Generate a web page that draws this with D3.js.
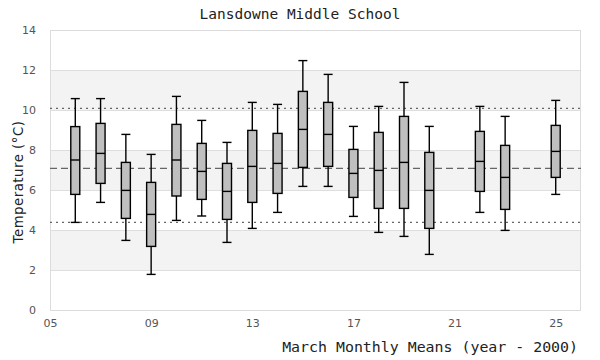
<!DOCTYPE html>
<html><head><meta charset="utf-8">
<script src="https://cdn.jsdelivr.net/npm/d3@7"></script>
<style>body{margin:0;background:#fff}</style>
</head><body>
<svg id="c" width="600" height="360"></svg>
<script>
const years    = [6, 7, 8, 9, 10, 11, 12, 13, 14, 15, 16, 17, 18, 19, 20, 22, 23, 25];
const whiskLo  = [4.38, 5.38, 3.48, 1.78, 4.48, 4.70, 3.38, 4.08, 4.88, 6.18, 6.18, 4.68, 3.88, 3.68, 2.78, 4.88, 3.98, 5.78];
const q1       = [5.78, 6.33, 4.58, 3.18, 5.70, 5.53, 4.53, 5.38, 5.83, 7.13, 7.18, 5.63, 5.08, 5.08, 4.08, 5.93, 5.03, 6.63];
const medians  = [7.50, 7.83, 5.98, 4.78, 7.50, 6.93, 5.93, 7.18, 7.33, 9.03, 8.78, 6.83, 6.98, 7.38, 5.98, 7.43, 6.63, 7.93];
const q3       = [9.17, 9.33, 7.38, 6.38, 9.28, 8.33, 7.33, 8.98, 8.83, 10.93, 10.38, 8.03, 8.88, 9.68, 7.88, 8.93, 8.23, 9.23];
const whiskHi  = [10.57, 10.57, 8.78, 7.78, 10.68, 9.48, 8.38, 10.38, 10.28, 12.47, 11.78, 9.18, 10.18, 11.38, 9.18, 10.18, 9.68, 10.48];
const meanLine = 7.08;
const bandLines = [4.38, 10.08];
const xTicks = [5, 9, 13, 17, 21, 25];
const yTicks = [0, 2, 4, 6, 8, 10, 12, 14];
const shadedBands = [[2, 4], [6, 8], [10, 12]];

const svg = d3.select("#c");
const L = 50, R = 581, T = 30, B = 310;
const x = d3.scaleLinear().domain([5, 26]).range([L, R]);
const y = d3.scaleLinear().domain([0, 14]).range([B, T]);
const mono = "'DejaVu Sans Mono', monospace";
const sans = "'DejaVu Sans', sans-serif";

// bands
svg.append("g").selectAll("rect").data(shadedBands).join("rect")
  .attr("x", L).attr("width", R - L)
  .attr("y", d => y(d[1])).attr("height", d => y(d[0]) - y(d[1]))
  .attr("fill", "#f3f3f3");

// grid
svg.append("g").selectAll("line").data(yTicks).join("line")
  .attr("x1", L).attr("x2", R)
  .attr("y1", d => y(d) + 0.5).attr("y2", d => y(d) + 0.5)
  .attr("stroke", "#dedede");

// border
svg.append("rect").attr("x", L + 0.5).attr("y", T + 0.5)
  .attr("width", R - L - 1).attr("height", B - T)
  .attr("fill", "none").attr("stroke", "#dcdcdc");

// y axis
const ya = svg.append("g").attr("transform", `translate(${L - 14},0)`)
  .call(d3.axisLeft(y).tickValues(yTicks).tickSize(0).tickPadding(0));
ya.select(".domain").remove();
ya.selectAll("text").attr("font-family", sans).attr("font-size", 11).attr("fill", "#555");

// x axis
const xa = svg.append("g").attr("transform", `translate(0,${B + 9})`)
  .call(d3.axisBottom(x).tickValues(xTicks).tickSize(0).tickPadding(0)
    .tickFormat(d => d3.format("02d")(d)));
xa.select(".domain").remove();
xa.selectAll("text").attr("font-family", sans).attr("font-size", 11).attr("fill", "#555");

// reference lines
svg.append("line").attr("x1", L).attr("x2", R)
  .attr("y1", y(meanLine)).attr("y2", y(meanLine))
  .attr("stroke", "#666").attr("stroke-width", 1.2).attr("stroke-dasharray", "7,4");
svg.append("g").selectAll("line").data(bandLines).join("line")
  .attr("x1", L).attr("x2", R)
  .attr("y1", d => y(d)).attr("y2", d => y(d))
  .attr("stroke", "#666").attr("stroke-width", 1.2).attr("stroke-dasharray", "2,4");

// boxes
const bw = 9, cw = 9;
const g = svg.append("g").selectAll("g").data(years.map((yr, i) => ({yr, i}))).join("g");
g.append("line").attr("x1", d => x(d.yr)).attr("x2", d => x(d.yr))
  .attr("y1", d => y(whiskLo[d.i])).attr("y2", d => y(whiskHi[d.i]))
  .attr("stroke", "#000").attr("stroke-width", 1.4);
g.append("line").attr("x1", d => x(d.yr) - cw / 2).attr("x2", d => x(d.yr) + cw / 2)
  .attr("y1", d => y(whiskHi[d.i])).attr("y2", d => y(whiskHi[d.i]))
  .attr("stroke", "#000").attr("stroke-width", 1.4);
g.append("line").attr("x1", d => x(d.yr) - cw / 2).attr("x2", d => x(d.yr) + cw / 2)
  .attr("y1", d => y(whiskLo[d.i])).attr("y2", d => y(whiskLo[d.i]))
  .attr("stroke", "#000").attr("stroke-width", 1.4);
g.append("rect").attr("x", d => x(d.yr) - bw / 2).attr("width", bw)
  .attr("y", d => y(q3[d.i])).attr("height", d => y(q1[d.i]) - y(q3[d.i]))
  .attr("fill", "#bfbfbf").attr("stroke", "#000").attr("stroke-width", 1.4);
g.append("line").attr("x1", d => x(d.yr) - bw / 2).attr("x2", d => x(d.yr) + bw / 2)
  .attr("y1", d => y(medians[d.i])).attr("y2", d => y(medians[d.i]))
  .attr("stroke", "#000").attr("stroke-width", 1.4);

// titles
svg.append("text").attr("x", 300).attr("y", 19).attr("text-anchor", "middle")
  .attr("font-family", mono).attr("font-size", 14.5).attr("fill", "#222")
  .text("Lansdowne Middle School");
svg.append("text").attr("x", 578).attr("y", 352).attr("text-anchor", "end")
  .attr("font-family", mono).attr("font-size", 14.9).attr("fill", "#222")
  .text("March Monthly Means (year - 2000)");
svg.append("text").attr("transform", "translate(23,182) rotate(-90)")
  .attr("text-anchor", "middle")
  .attr("font-family", sans).attr("font-size", 13.3).attr("letter-spacing", 0.5).attr("fill", "#222")
  .text("Temperature (°C)");
</script>
</body></html>
